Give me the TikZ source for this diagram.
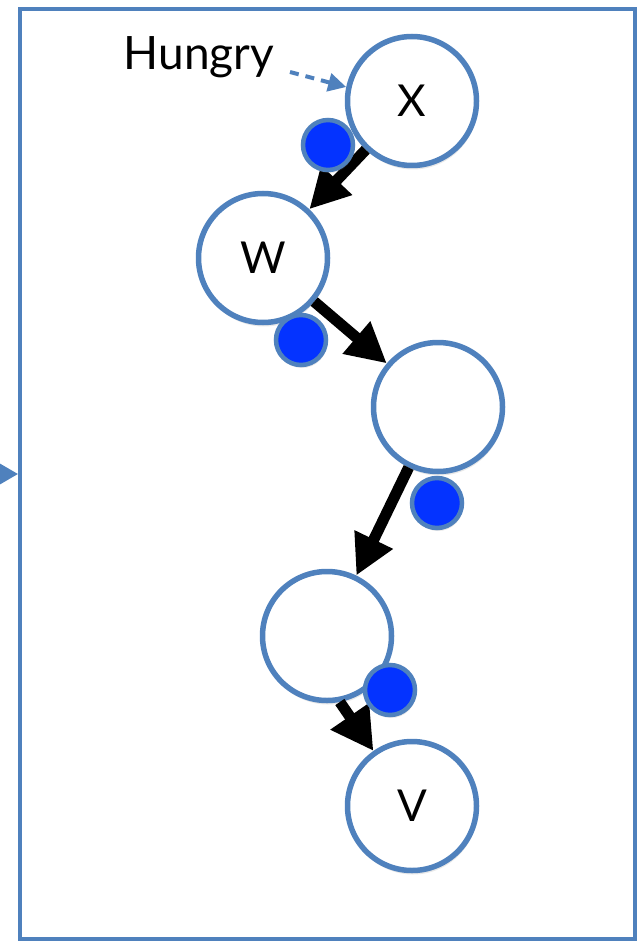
\documentclass[tikz,border=0pt]{standalone}
\usepackage{fontspec}
\setmainfont{Lato}
\usetikzlibrary{arrows.meta,shadows}
\definecolor{frameblue}{RGB}{79,129,189}
\definecolor{dotblue}{RGB}{4,51,255}
\tikzset{
  state/.style={circle, draw=frameblue, line width=5.5pt, fill=white,
    minimum size=129pt, inner sep=0pt, font=\fontsize{44}{52}\selectfont,
    drop shadow={shadow xshift=1pt, shadow yshift=-4pt, opacity=0.18}},
  marker/.style={circle, draw=frameblue, line width=4.5pt, fill=dotblue,
    minimum size=50pt, inner sep=0pt,
    drop shadow={shadow xshift=1pt, shadow yshift=-3pt, opacity=0.18}},
  link/.style={line width=11pt, -{Triangle[length=40pt,width=40pt]}},
  hint/.style={frameblue, line width=4pt, dash pattern=on 9pt off 7pt,
    -{Triangle[length=18pt,width=18pt]}},
}
\begin{document}
\begin{tikzpicture}[x=1pt,y=-1pt]
  \useasboundingbox (0,0) rectangle (640,941);
  % outer frame
  \draw[frameblue, line width=4.5pt] (20,9) rectangle (635,939);
  % incoming arrow on the left edge
  \coordinate (inA) at (-30,474);
  \coordinate (inB) at (18,474);
  \draw[frameblue, line width=3pt, -{Triangle[length=18pt,width=20pt]}] (inA) -- (inB);

  \coordinate (xc) at (412,101);
  \coordinate (wc) at (263,258);
  \coordinate (ac) at (438,407);
  \coordinate (bc) at (327,636);
  \coordinate (vc) at (412,806);

  \node[state] (x) at (xc) {X};
  \node[state] (w) at (wc) {W};
  \node[state] (a) at (ac) {};
  \node[state] (b) at (bc) {};
  \node[state] (v) at (vc) {V};

  \draw[link] (x) -- (w);
  \draw[link] (w) -- (a);
  \draw[link] (a) -- (b);
  \draw[link, -{Triangle[length=42pt,width=44pt]}] (b.-79) -- (v.125);

  % markers on the states
  \node[marker] (dx) at (328,145) {};
  \node[marker] (dw) at (301,340) {};
  \node[marker] (da) at (437,503) {};
  \node[marker] (db) at (390,690) {};

  % label with dashed pointer
  \node[font=\fontsize{46}{54}\selectfont, inner sep=0pt, anchor=base] (hungry) at (199,70) {Hungry};
  \coordinate (hs) at (290,72);
  \draw[hint] (hs) -- (x.168);
\end{tikzpicture}
\end{document}
